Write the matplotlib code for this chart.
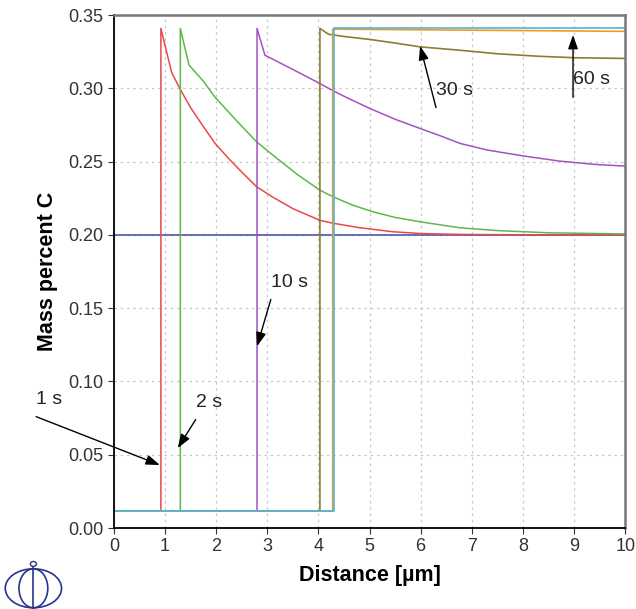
import matplotlib
matplotlib.use("Agg")
import matplotlib.pyplot as plt
from matplotlib.patches import Ellipse

plt.rcParams["font.family"] = ["Liberation Sans", "DejaVu Sans"]

# carbon profiles (distance in um, mass percent C)
low = 0.0115
x_1s = [0, 0.92, 0.92, 1.13, 1.29, 1.5, 1.75, 1.98, 2.25, 2.5, 2.79, 3.1, 3.5, 4.03, 4.29, 4.8, 5.46, 6.0, 6.77, 8.0, 10.0]
c_1s = [low, low, 0.341, 0.311, 0.300, 0.287, 0.274, 0.2625, 0.252, 0.243, 0.233, 0.226, 0.218, 0.210, 0.208, 0.205, 0.2022, 0.201, 0.2004, 0.2001, 0.200]

x_2s = [0, 1.3, 1.3, 1.47, 1.75, 1.98, 2.4, 2.79, 3.2, 3.6, 4.03, 4.29, 4.7, 5.07, 5.5, 5.99, 6.77, 7.5, 8.5, 10.0]
c_2s = [low, low, 0.341, 0.316, 0.305, 0.294, 0.278, 0.2636, 0.252, 0.241, 0.2306, 0.226, 0.220, 0.2158, 0.212, 0.209, 0.2049, 0.203, 0.2015, 0.2007]

x_10s = [0, 2.8, 2.8, 2.955, 3.5, 4.03, 4.29, 4.6, 5.01, 5.5, 5.99, 6.4, 6.77, 7.3, 8.0, 8.7, 9.4, 10.0]
c_10s = [low, low, 0.341, 0.3227, 0.313, 0.3034, 0.2984, 0.293, 0.2863, 0.279, 0.2727, 0.2675, 0.2625, 0.258, 0.254, 0.2505, 0.2482, 0.247]

x_30s = [0, 4.03, 4.03, 4.2, 4.5, 5.0, 5.5, 5.99, 6.77, 7.5, 8.3, 9.0, 10.0]
c_30s = [low, low, 0.341, 0.337, 0.3355, 0.3335, 0.331, 0.3284, 0.3261, 0.3237, 0.322, 0.321, 0.3205]

x_60s = [0, 4.28, 4.28, 10.0]
c_60s = [low, low, 0.3405, 0.339]

x_100s = [0, 4.31, 4.31, 10.0]
c_100s = [low, low, 0.3415, 0.3415]

x_init = [0, 10]
c_init = [0.2, 0.2]

labels = ["1 s", "2 s", "10 s", "30 s", "60 s"]
text_xy = [(-1.52, 0.082), (1.60, 0.080), (3.07, 0.162), (6.3, 0.293), (8.98, 0.300)]
tip_xy = [(0.90, 0.043), (1.25, 0.0545), (2.80, 0.124), (5.99, 0.329), (8.98, 0.3365)]

fig = plt.figure(figsize=(6.36, 6.09), dpi=100)
ax = fig.add_axes([0.179, 0.133, 0.804, 0.842])

ax.plot(x_init, c_init, color="#4a5aa8", lw=1.2)
ax.plot(x_1s, c_1s, color="#e8494b", lw=1.1)
ax.plot(x_2s, c_2s, color="#5cb84a", lw=1.1)
ax.plot(x_10s, c_10s, color="#a352c2", lw=1.1)
ax.plot(x_30s, c_30s, color="#8c7e30", lw=1.2)
ax.plot(x_60s, c_60s, color="#f39a1c", lw=1.2)
ax.plot(x_100s, c_100s, color="#4ab6e2", lw=1.2)

for lab, (tx, ty), (px, py) in zip(labels, text_xy, tip_xy):
    ax.annotate("", xy=(px, py), xytext=(tx, ty - 0.006),
                arrowprops=dict(arrowstyle="-|>,head_length=0.7,head_width=0.25",
                                color="black", lw=1.0,
                                mutation_scale=12, shrinkA=0, shrinkB=0),
                annotation_clip=False)
    ax.text(tx, ty, lab, fontsize=14, ha="left", va="bottom", clip_on=False,
            color="#222222")

ax.set_xlim(0, 10)
ax.set_ylim(0, 0.35)
ax.set_xticks(range(0, 11))
ax.set_yticks([0, 0.05, 0.10, 0.15, 0.20, 0.25, 0.30, 0.35])
ax.set_yticklabels(["0.00", "0.05", "0.10", "0.15", "0.20", "0.25", "0.30", "0.35"])
ax.tick_params(labelsize=13, length=4, direction="out", colors="#333333")
ax.grid(True, color="#c8c8c8", linestyle=(0, (2, 3)), lw=0.9)
ax.set_axisbelow(True)
for s in ["top", "right"]:
    ax.spines[s].set_color("#777777")
    ax.spines[s].set_linewidth(1.8)
ax.spines["left"].set_linewidth(1.3)
ax.spines["bottom"].set_linewidth(1.3)

ax.set_xlabel("Distance [µm]", fontsize=15.5, fontweight="bold", labelpad=7)
ax.set_ylabel("Mass percent C", fontsize=15.5, fontweight="bold", labelpad=7)

# small logo in the corner
lg = fig.add_axes([0.005, 0.0, 0.095, 0.08])
lg.set_xlim(-1.1, 1.1)
lg.set_ylim(-0.95, 1.05)
lg.axis("off")
blue = "#27348b"
lg.add_patch(Ellipse((0, -0.1), 2.05, 1.6, fill=False, ec=blue, lw=1.2))
lg.add_patch(Ellipse((0, -0.1), 1.05, 1.6, fill=False, ec=blue, lw=1.2))
lg.plot([0, 0], [-0.95, 0.78], color=blue, lw=1.2)
lg.add_patch(Ellipse((0, 0.9), 0.22, 0.2, fill=False, ec=blue, lw=1.0))

fig.savefig("out.png", dpi=100)
